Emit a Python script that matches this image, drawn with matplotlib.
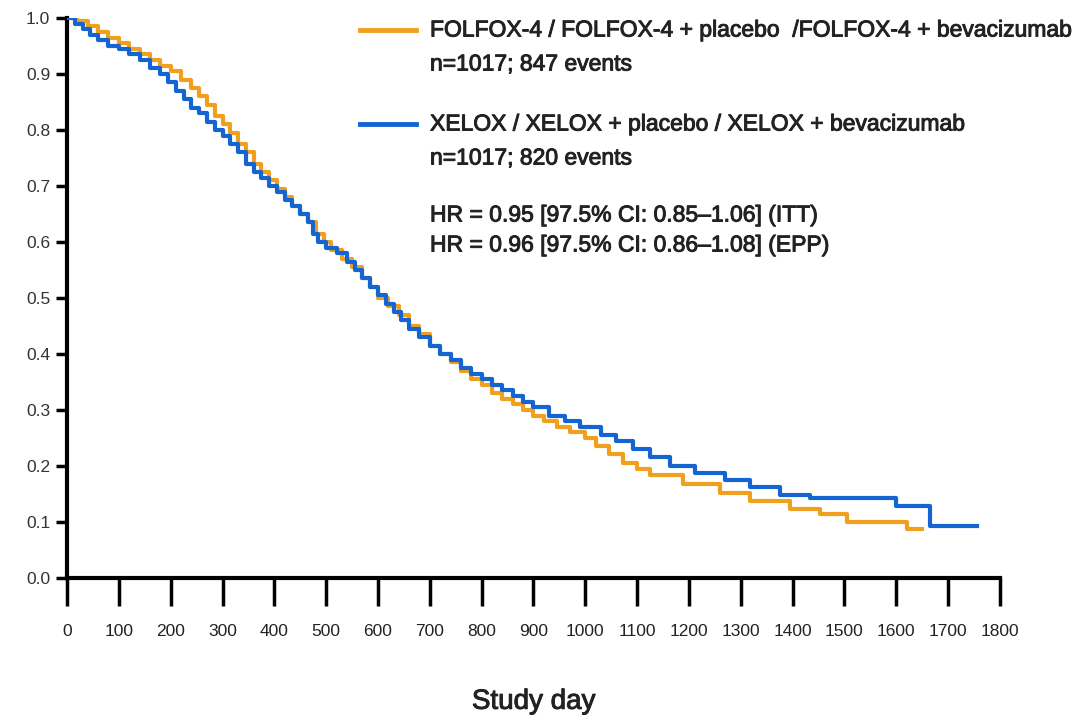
import matplotlib
matplotlib.use("Agg")
import matplotlib.pyplot as plt
import matplotlib.patheffects as pe
from matplotlib.lines import Line2D

# ---- data (step-wise KM curves) ----
folfox_days = [0, 20, 40, 60, 80, 100, 120, 140, 160, 180, 200, 220, 240, 255, 270,
               285, 300, 315, 330, 345, 360, 375, 390, 405, 420, 435, 450, 465, 480,
               495, 510, 530, 550, 570, 585, 600, 620, 640, 660, 680, 700, 720, 740,
               760, 780, 800, 820, 840, 860, 880, 900, 920, 945, 970, 1000, 1020, 1045,
               1073, 1100, 1125, 1188, 1260, 1318, 1395, 1453, 1505, 1620, 1650]
folfox_surv = [1.0, 0.995, 0.985, 0.975, 0.965, 0.955, 0.945, 0.935, 0.925, 0.915,
               0.905, 0.89, 0.875, 0.86, 0.845, 0.825, 0.81, 0.795, 0.775, 0.76, 0.74,
               0.725, 0.71, 0.695, 0.68, 0.665, 0.65, 0.635, 0.615, 0.60, 0.585, 0.57,
               0.555, 0.535, 0.52, 0.50, 0.485, 0.47, 0.45, 0.435, 0.415, 0.40, 0.385,
               0.37, 0.355, 0.345, 0.33, 0.32, 0.31, 0.30, 0.29, 0.28, 0.27, 0.26, 0.25,
               0.235, 0.222, 0.205, 0.195, 0.184, 0.168, 0.152, 0.138, 0.124, 0.114,
               0.10, 0.088, 0.088]

xelox_days = [0, 15, 30, 45, 60, 80, 100, 120, 140, 160, 180, 195, 210, 225, 240, 255,
              270, 285, 300, 315, 330, 345, 360, 375, 390, 405, 420, 435, 450, 465, 475,
              485, 500, 520, 540, 555, 570, 585, 600, 615, 630, 645, 660, 680, 700, 720,
              740, 760, 780, 800, 820, 840, 860, 880, 900, 930, 960, 990, 1030, 1060,
              1092, 1125, 1163, 1212, 1270, 1318, 1376, 1433, 1600, 1665, 1755]
xelox_surv = [1.0, 0.99, 0.98, 0.97, 0.96, 0.95, 0.945, 0.935, 0.925, 0.91, 0.90,
              0.885, 0.87, 0.855, 0.84, 0.83, 0.815, 0.80, 0.79, 0.775, 0.76, 0.74,
              0.725, 0.715, 0.70, 0.69, 0.675, 0.665, 0.65, 0.635, 0.615, 0.60, 0.59,
              0.58, 0.565, 0.55, 0.535, 0.52, 0.505, 0.49, 0.475, 0.46, 0.445, 0.43,
              0.415, 0.40, 0.39, 0.375, 0.365, 0.355, 0.345, 0.335, 0.325, 0.315, 0.305,
              0.29, 0.28, 0.27, 0.255, 0.245, 0.23, 0.216, 0.20, 0.188, 0.175, 0.163,
              0.148, 0.142, 0.128, 0.092, 0.092]

x_ticks = list(range(0, 1801, 100))
y_ticks = [round(0.1 * i, 1) for i in range(11)]

ORANGE = "#F0A01E"
BLUE = "#1464D2"
FONT = ["Liberation Sans", "DejaVu Sans"]
bold_ish = [pe.withStroke(linewidth=0.7, foreground="#222222")]

fig = plt.figure(figsize=(10.81, 7.25), dpi=100)
ax = fig.add_axes([0.062, 0.2028, 0.863, 0.7724])

ax.step(folfox_days, folfox_surv, where="post", color=ORANGE, lw=3, zorder=2)
ax.step(xelox_days, xelox_surv, where="post", color=BLUE, lw=3, zorder=3)

ax.set_xlim(0, 1800)
ax.set_ylim(0, 1.0)
ax.set_xticks(x_ticks)
ax.set_xticklabels([str(t) for t in x_ticks], family=FONT, fontsize=12.5, color="#222222")
ax.set_yticks(y_ticks)
ax.set_yticklabels([f"{t:.1f}" for t in y_ticks], family=FONT, fontsize=12.5, color="#333333")
ax.tick_params(axis="x", direction="out", length=20, width=2.5, pad=13)
ax.tick_params(axis="y", direction="out", length=8, width=2.5, pad=4)
for side in ("top", "right"):
    ax.spines[side].set_visible(False)
for side in ("left", "bottom"):
    ax.spines[side].set_linewidth(3)
xl = ax.set_xlabel("Study day", family=FONT, fontsize=20, labelpad=36, color="#222222")
xl.set_path_effects(bold_ish)

# legend-like annotations
W, H = 1081, 725
def fx(px): return px / W
def fy(py): return 1 - py / H

fig.add_artist(Line2D([fx(360), fx(416)], [fy(30), fy(30)], color=ORANGE, lw=3.5))
fig.add_artist(Line2D([fx(360), fx(416)], [fy(124), fy(124)], color=BLUE, lw=3.5))

txt = dict(family=FONT, fontsize=16.5, color="#222222", va="center", ha="left",
           path_effects=bold_ish)
fig.text(fx(430), fy(30), "FOLFOX-4 / FOLFOX-4 + placebo  /FOLFOX-4 + bevacizumab", **txt)
fig.text(fx(430), fy(64), "n=1017; 847 events", **txt)
fig.text(fx(430), fy(124), "XELOX / XELOX + placebo / XELOX + bevacizumab", **txt)
fig.text(fx(430), fy(158), "n=1017; 820 events", **txt)
fig.text(fx(430), fy(215), "HR = 0.95 [97.5% CI: 0.85\u20131.06] (ITT)", **txt)
fig.text(fx(430), fy(245), "HR = 0.96 [97.5% CI: 0.86\u20131.08] (EPP)", **txt)

fig.savefig("out.png", dpi=100)
